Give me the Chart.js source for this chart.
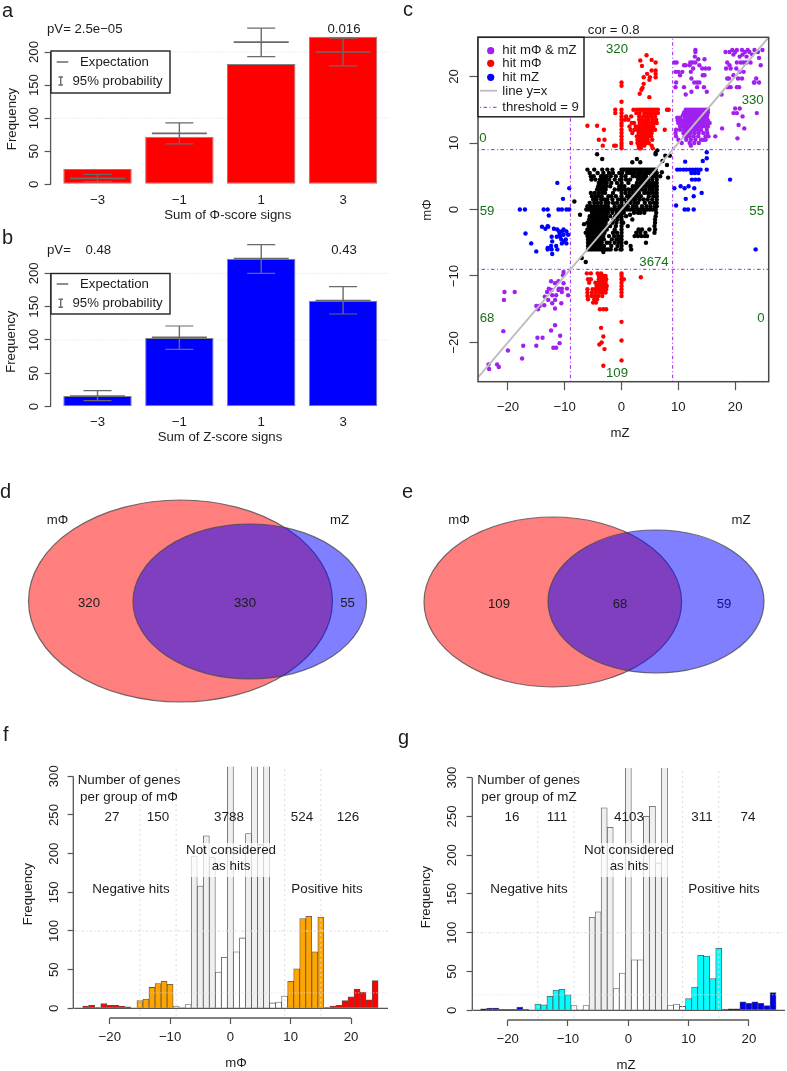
<!DOCTYPE html>
<html><head><meta charset="utf-8">
<style>html,body{margin:0;padding:0;background:#fff}canvas{position:absolute;display:block}</style>
<script src="https://cdn.jsdelivr.net/npm/chart.js@4/dist/chart.umd.min.js"></script>
</head><body>
<script>
// ---------- panels a, b ----------
const signSums=[-3,-1,1,3];
const phiObs=[23,72,182,223], phiExp=[9,77,215,200], phiLo=[4,61,193,179], phiHi=[15,93,236,221];
const zObs=[16,103,222,159], zExp=[16,104,222,159], zLo=[9,86,200,139], zHi=[24,121,243,180];
const freqTicks=[0,50,100,150,200], histTicks=[0,50,100,150,200,250,300], histXTicks=[-20,-10,0,10,20];
// ---------- panels f, g ----------
const bins=[-24,-23,-22,-21,-20,-19,-18,-17,-16,-15,-14,-13,-12,-11,-10,-9,-8,-7,-6,-5,-4,-3,-2,-1,0,1,2,3,4,5,6,7,8,9,10,11,12,13,14,15,16,17,18,19,20,21,22,23,24];
const histPhi=[3,4,1,6,4,4,3,2,0,10,12,27,32,35,31,3,1,5,197,158,223,195,47,66,760,73,91,226,720,212,780,7,8,16,35,51,116,119,73,118,1,3,4,10,15,25,21,11,36];
const histZ=[2,3,3,1,1,1,4,1,0,8,7,18,26,27,20,6,1,6,120,127,261,236,28,48,1250,65,65,250,263,190,1168,6,8,5,15,30,71,70,41,80,1,2,2,11,9,11,9,6,23];
// ---------- panels d, e ----------
const vennDX=[180.5,249.8], vennDY=[-6,-6.5], vennDRx=[152,116.8], vennDRy=[101,77.5];
const vennEX=[160.8,264], vennEY=[-7,-6.5], vennERx=[128.8,108], vennERy=[85,71.5];
// ---------- panel c: [y,[x...]] rows ----------
const blackRows=[
[8.9,[6.3]],[8.5,[6]],[8.3,[-4.3,6]],[8.1,[7.7,8.5]],[7.6,[-3.4,2.7]],[7.3,[7.2]],[7.1,[1.9,3.3]],[6.7,[8]],[5.6,[7.1]],[5,[6.8]],[4.8,[8.2]],
[6,[-6,-4.8,-3.4,-2.5,-1.6,0,0.3,0.6,0.9,1.2,1.5,1.8,2.1,2.4,2.7,3,3.3,3.6,3.9,4.2,4.5,4.8,5.1,5.4,5.7,6]],
[5.5,[-5.6,-4.2,-3.2,-2.2,-1.5,-0.4,0.1,1,1.6,2.2,2.9,3.4,4,4.6,5,5.6,6.2]],
[5,[-5.4,-4.9,-3.6,-3,-2.6,-1.9,-1,0,0.7,2,2.6,3.2,3.8,4.3,5.2,5.8,6.2]],
[4.5,[-5.3,-4.6,-3.8,-3.3,-2.8,-2.2,-1.2,-0.3,0,0.8,1.5,2.9,3.5,4.1,4.7,5.4,6.2]],
[4,[-4,-3.5,-3,-2.6,-1.8,-0.8,0,1.2,2.7,3.3,3.7,4.4,5,5.6,6.2]],
[3.5,[-4.1,-3.6,-3.1,-2.7,-2,-0.4,0,0.5,2,2.5,3,3.6,4.2,4.8,5.3,5.9,6.2]],
[3,[-4.3,-3.7,-3.2,-2.8,-1.2,-0.5,0,0.6,1.2,1.8,2.4,3,3.6,4.2,4.9,5.5,6.2]],
[2.5,[-5.4,-4.7,-4,-3.4,-2.9,-1.5,0,0.7,1.4,2,2.6,3.1,4,4.6,5.2,5.8,6.2]],
[2,[-5.2,-4.6,-4.1,-3.5,-2.3,-1.8,-1,0,1,1.6,2.2,2.8,3.4,4.8,5.6,6.2]],
[1.5,[-5,-4.4,-3.6,-3,-2.5,-1.6,-0.6,0,0.5,1.3,1.9,2.5,3.2,3.9,4.6,5.4,6.2]],
[1.2,[-8.3]],
[1,[-5.6,-4.8,-4.2,-3.6,-2.8,-2.3,-1.5,-0.8,0,0.9,1.6,2.3,2.9,4.1,5,5.7,6.2]],
[0.5,[-6,-5.4,-4.8,-4.2,-3.6,-3,-2.4,-1.2,-0.4,0,0.6,1.1,2,2.6,3.6,4.4,5.1,5.9,6.2]],
[0,[-6.2,-5.8,-5.4,-5,-4.6,-4.2,-3.8,-3.4,-3,-2.6,-2.2,-1.8,-1.4,-1,-0.6,-0.2,0,0.5,1,1.5,2,2.5,3,3.5,4,4.5,5,5.5,6]],
[-0.5,[-5.2,-4.8,-4.4,-4,-3.6,-3.2,-2.8,-2.4,-1.6,-0.8,-0.3,0,0.4,2.2,2.9,3.3,4,6.1]],
[-0.8,[-7.3,1.5]],
[-1,[-5.6,-5.2,-4.8,-4.3,-3.9,-3.5,-3.1,-2.7,-2,-1.1,-0.5,0,0.8,6]],
[-1.5,[-5.7,-5.3,-4.9,-4.5,-4.1,-3.7,-3.3,-2.9,-2.5,-1.4,-0.7,0,1.9,5.9]],
[-2,[-6,-5.6,-5.2,-4.8,-4.4,-4,-3.6,-3.2,-2.8,-1.6,-0.9,0,0.3,5.9]],
[-2.2,[-6.6]],
[-2.5,[-5.8,-5.4,-5,-4.6,-4.2,-3.8,-3.4,-3,-2.4,-2,-1,0,1.1,5.8]],
[-3,[-6,-5.6,-5.2,-4.8,-4.4,-4,-3.6,-3.2,-2.6,-1.2,0,3,3.6,4.9,5.9]],
[-3.5,[-6.3,-5.8,-5.4,-5,-4.6,-4.2,-3.8,-3.4,-3,-1.5,-0.8,0,2.6,3.3,4.2,5.8]],
[-4,[-6,-5.6,-5.2,-4.8,-4.4,-4,-3.6,-3.2,-2.2,-1.3,-0.6,0,2.3,2.9,3.5,4.1,4.5]],
[-4.5,[-5.9,-5.5,-5.1,-4.7,-4.3,-3.9,-3.5,-3.1,-1.7,-0.9,-0.3,0]],
[-5,[-5.9,-5.5,-5.1,-4.7,-4.3,-3.9,-3.5,-2.6,-2.1,-1.2,-0.5,0,0.8,4.3]],
[-5.5,[-5.9,-5.5,-5.1,-4.7,-4.3,-3.9,-3.5,-3.1,-1.8,-0.7,0,1.6]],
[-6,[-5.9,-5.5,-5.1,-4.7,-4.3,-3.9,-3.5,-3.1,-2.7,-2.3,-1.9,-1,-0.2,0,1.7]],
[-6.4,[-3.2]],[-7.3,[-7]],[-7.9,[-6.3]]];
const redRows=[
[23.2,[4.4]],[22.5,[5.3]],[22.4,[3.3]],[22.1,[6]],[21.6,[3.6]],[20.9,[6,5.3]],[20.4,[6,4.5]],[19.9,[6,3.9,5]],[19.5,[4.9]],[19.1,[0]],[18.9,[3.9]],[18.6,[0]],[18.3,[3.7]],[18,[3.5]],[17.4,[3.2]],[16.9,[4.9]],[16.2,[0]],
[15,[-1.1,0,2.1,2.7,3.2,3.6,4,4.4,4.8,5.2,5.6,6,6.4,8,8.3]],
[14.5,[-1.1,0,2.6,3.2,4,4.6,5.1,5.5,6,6.4]],
[14,[0,0.8,1.7,3.1,3.8,4.4,4.9,5.3,5.9]],
[13.5,[0,0.6,1.2,3.1,3.6,4.3,4.8,5.5,6.1]],
[13,[0,1.8,2.2,3.2,3.8,4.2,4.6,5.2,5.7,6.2]],
[12.6,[-6,0,-4.3]],
[12.5,[1.4,2.5,3,3.5,4,4.5,5,5.6]],
[12,[-3.1,0,1.6,2.3,2.8,3.3,3.9,4.4,5,5.4,5.9,7.6]],
[11.5,[0,1.9,3,3.4,3.9,4.4,4.9,5.3]],
[11,[0,2.7,3.1,3.6,4.1,4.7,5.2]],
[10.5,[-4,-3,0,2.8,3.2,3.7,4.2,4.6,5.4]],
[10,[0,1.7,2.8,3.2,3.7,4.3,4.8]],
[9.6,[-3.3,-1.3,-1,0,3,3.4,4,5.3]],[9.2,[0,3.1,3.4,5.5]],
[-9.6,[-6.1,-5.4,-4.2,-3.6,0]],[-10,[-4,-3.5,-3.1,-2.8,0]],[-10.2,[3.4]],[-10.5,[-5.9,-5.4,-4,-3.6,-3.2,-2.7,0,0.4]],
[-11,[-5.7,-4.6,-4.1,-3.7,-3.3,-2.8,0]],[-11.5,[-4.4,-4,-3.5,-3,-2.6,0]],[-12,[-6,-5.1,-4.6,-4.1,-3.6,-3.1,-2.7,0]],
[-12.5,[-6,-5.2,-4.5,-3.8,-3.3,-2.8,0]],[-13,[-6,-5.3,-4.7,-4.1,-3.4,0]],[-13.5,[-5.9,-4.8,-4.3]],[-14,[-5,-4.5]],
[-15,[-3.8,-3.2,-2.7]],[-16.9,[0]],[-17.8,[-3.6]],[-19.1,[-3.2]],[-19.7,[0]],[-20,[-3.5]],[-20.3,[-3.9]],[-21,[-3]],[-22.7,[0]],[-23.5,[-3.2]]];
const blueRows=[
[8.6,[15]],[7.7,[15]],[7.3,[14.3]],[7.2,[11.2]],[6,[9.8,10.3,10.9,11.4,12,12.5,13,13.4,13.9,15]],[5.5,[12.3,12.9,13.5]],[4.5,[12.4,13,13.6,19.1]],[4,[-11.3]],
[3.5,[10.4,11.8]],[3.2,[9.3,11.1,12.8,-9.2]],[2.5,[14.1]],[2,[12.7]],[1.6,[-10.3,11.3]],[0.6,[9.6]],
[0,[-17.9,-17,-13.7,-13,-11.1,-10.5,-9.7,-9.2,11.1,11.7,12.7]],[-0.9,[-12.8]],
[-2.6,[-14,-12.9]],[-2.5,[-13]],[-2.9,[-13.4,-11.9]],[-3,[-11.3,-10.2]],[-3.3,[-10.5,-9.7,-11]],[-3.6,[-16.9]],[-3.8,[-9.4,-10.2,-10.9]],[-4.1,[-12.3,-10.8,-11.4]],[-4.5,[-9.8,-10.6]],[-4.8,[-12.2,-10.2]],[-5.1,[-15.9,-9.7,-10.5]],[-5.5,[-12.4,-11.5]],[-5.8,[-13]],[-6,[-12.3,-11.3,23.6,-13]],[-6.3,[-15]],[-6.7,[-12.2]]];
const purpleRows=[
[24,[13,19.5,20.3,21.2,22.2,23.4,24.8]],[23.7,[13,18.3,19,20,21.7,22.5,24]],[23,[12.9,20.8,22]],[23.3,[19.7,21.3,23]],[22.8,[24.2]],[22.6,[13.5,14.6]],
[22.1,[9.3,9.7,12.1,12.5,13,20.3,21,21.5,22,22.7,18.6]],[21.7,[11,11.3,13.7,24.5,19,12]],[21.2,[12.6,14.2,14.8,15.4,19.2,18.4,20.2]],[20.7,[10,10.7,9.5,12.2,20.8,21.5]],[20.2,[14.3,14.6,10.3,19.7]],
[19.7,[12.3,20.5,21.2,18.6,18.9,23.7]],[19.1,[9.6,12.8,13.3,13.7,23.3,23.4,24.2]],[18.4,[14.5,11,13.3,19.2,18.7,20.3,20.7,9.5]],[17.7,[15,12.3]],[17.3,[11.3,17.6]],
[15.2,[20,20.8]],[14.5,[19.7,20.3,23.8]],[14,[21.3]],[13,[15.5]],[12.7,[20.6]],[12.2,[17.7,21.6]],[11,[16.5]],[10.7,[20.4]],
[15,[11.3,11.7,12.1,12.5,12.9,13.3,13.7,14.1,14.5,14.9,15.2]],
[14.6,[11,11.5,12,12.4,12.8,13.2,13.6,14,14.4,14.8,15.2]],
[14.2,[10.8,11.3,11.8,12.2,12.6,13,13.4,13.8,14.2,14.6,15.1]],
[13.8,[9.8,10.3,11.1,11.6,12,12.4,12.8,13.2,13.6,14,14.4,15]],
[13.4,[9.9,10.5,11,11.5,12,12.4,12.8,13.3,13.7,14.1,14.5,15.2]],
[13,[10,10.6,11.2,11.7,12.1,12.5,12.9,13.4,14,14.5,15.1]],
[12.5,[10.3,10.9,11.3,11.8,12.2,12.6,13.1,13.6,14.2,14.8,15.2]],
[12,[9.6,10.3,11,11.5,11.9,12.3,12.8,13.4,14,15]],
[11.5,[9.5,10.9,11.4,11.8,12.2,12.9,13.6,14.4,15.1]],
[11,[9.6,11.1,11.6,12,12.7,13.5,14.8,15.3]],
[10.5,[10,11.4,12.2,13,14,14.4,14.8]],[10,[10.6,12,12.8,13.6]],[9.6,[12.2]],
[-9.4,[-10.2]],[-9.9,[-10.3]],[-10.8,[-12.4,-11.1]],[-11.1,[-11.7,-10.2]],[-11.9,[-12.8,-11,-10.5,-9.6]],[-12.1,[-12.3,-11.1]],[-12.4,[-13.1,-10.5,-18.8,-20.6]],[-12.9,[-9.4,-11.5,-12.2]],[-13.1,[-13.5]],[-13.6,[-11.7,-12.9,-20.7]],[-14.1,[-12.2,-10.6]],[-14.4,[-13.6]],[-14.5,[-15,-14.4]],[-14.9,[-11.7]],[-15,[-14.7]],
[-17.4,[-11.7]],[-18.2,[-12.4]],[-18.3,[-20.8]],[-19,[-10.8]],[-19.3,[-14.8,-13.9]],[-20.1,[-10.9]],[-20.5,[-15,-17.3]],[-20.8,[-12,-11.5]],[-21.2,[-20]],[-22.4,[-17.5]],[-23.3,[-23.4,-21.9]],[-23.7,[-21.6]],[-24,[-23.3]]];
const cTicks=[-20,-10,0,10,20], thresholds=[-9,9];

// ---------- helpers ----------
const FF='"Liberation Sans", Arial, sans-serif', AX='#565656', TXT='#1c1c1c', GRN='#16701a', PUR='#a020f0', SZ=13.2;
const PTS=rows=>rows.flatMap(([y,xs])=>xs.map(x=>({x,y})));
const minus=v=>String(v).replace('-','\u2212');
function T(c,s,x,y,o={}){c.save();c.font=(o.size||SZ)+'px '+FF;c.fillStyle=o.color||TXT;c.textAlign=o.align||'center';c.textBaseline='middle';c.translate(x,y);if(o.rot)c.rotate(-Math.PI/2);c.fillText(s,0,0);c.restore();}
function canvas(p){const e=document.createElement('canvas');e.width=p.w;e.height=p.h;e.style.cssText=`left:${p.l}px;top:${p.t}px;width:${p.w}px;height:${p.h}px`;document.body.appendChild(e);return e;}
function yScale(p,left,min,max,ticks,len,pad){return{type:'linear',min,max,afterBuildTicks:s=>{s.ticks=ticks.map(v=>({value:v}))},afterFit:s=>{s.width=left-p.l},border:{display:false},
 grid:{drawOnChartArea:false,drawTicks:true,tickLength:len,tickColor:AX,tickWidth:1.2},
 ticks:{font:{family:FF,size:SZ},color:TXT,minRotation:90,maxRotation:90,crossAlign:'center',padding:pad,autoSkip:false,callback:minus}};}
function xScale(p,bottom,min,max,ticks,len,pad){return{type:'linear',offset:false,min,max,afterBuildTicks:s=>{s.ticks=ticks.map(v=>({value:v}))},afterFit:s=>{s.height=p.t+p.h-bottom},border:{display:false},
 grid:{offset:false,display:len>0,drawOnChartArea:false,drawTicks:true,tickLength:len,tickColor:AX,tickWidth:1.2},
 ticks:{font:{family:FF,size:SZ},color:TXT,maxRotation:0,padding:pad,autoSkip:false,callback:minus}};}
const ref=(x1,y1,x2,y2,color,dash,w,order)=>({type:'scatter',showLine:true,data:[{x:x1,y:y1},{x:x2,y:y2}],borderColor:color,borderDash:dash,borderWidth:w,pointRadius:0,fill:false,order});
function mk(p,plot,datasets,scales,draw,type){return new Chart(canvas(p),{type:type||'bar',data:{datasets},
 options:{responsive:false,animation:false,devicePixelRatio:1,events:[],layout:{autoPadding:false,padding:{left:0,bottom:0,top:plot.t-p.t,right:p.l+p.w-plot.r}},plugins:{legend:{display:false},tooltip:{enabled:false},title:{display:false}},scales},
 plugins:[{id:'deco',afterDraw(ch){const c=ch.ctx;c.save();c.translate(-p.l,-p.t);draw(c,ch);c.restore();}}]});}
function axisY(c,ch,x0,p,ticks){const s=ch.scales.y;c.strokeStyle=AX;c.lineWidth=1.3;c.beginPath();c.moveTo(x0,p.t+s.getPixelForValue(ticks[0]));c.lineTo(x0,p.t+s.getPixelForValue(ticks[ticks.length-1]));c.stroke();}

// ---------- bars a / b ----------
function barPanel(p,plot,obs,exp,lo,hi,color,info){
 const GR='#6a6a6a';
 const ds=[
  {type:'scatter',data:signSums.map((x,i)=>({x,y:exp[i]})),pointStyle:'line',pointRadius:27.5,pointBorderColor:GR,pointBorderWidth:1.6,order:1},
  {type:'scatter',data:signSums.flatMap((x,i)=>[{x,y:lo[i]},{x,y:hi[i]}]),pointStyle:'line',pointRadius:14,pointBorderColor:GR,pointBorderWidth:1.2,order:1},
  {type:'bar',grouped:false,data:signSums.map((x,i)=>({x,y:[lo[i],hi[i]]})),backgroundColor:GR,borderWidth:0,maxBarThickness:1.4,order:2},
  {type:'bar',grouped:false,data:signSums.map((x,i)=>({x,y:obs[i]})),backgroundColor:color,borderColor:'#808080',borderWidth:1,borderSkipped:false,barPercentage:0.836,categoryPercentage:1,order:3},
  ref(-5,100,5,100,'#dcdcdc',[1,2],1,4),ref(-5,200,5,200,'#dcdcdc',[1,2],1,4)];
 const ymax=(plot.zero-plot.t)/plot.k;
 mk(p,plot,ds,{x:xScale(p,plot.zero,-4.146,4.146,signSums,0,7.8),y:yScale(p,plot.l,0,ymax,freqTicks,6,-0.4)},(c,ch)=>{
  axisY(c,ch,plot.l,p,freqTicks);
  const L=info.leg;
  c.fillStyle='#fff';c.fillRect(51,L.t,119,L.b-L.t);c.strokeStyle='#222';c.lineWidth=1.4;c.strokeRect(51,L.t,119,L.b-L.t);
  c.strokeStyle=GR;c.lineWidth=1.4;c.beginPath();c.moveTo(56.7,L.y1);c.lineTo(68.3,L.y1);c.moveTo(60.7,L.y2-4);c.lineTo(60.7,L.y2+4);c.moveTo(58.5,L.y2-4);c.lineTo(63,L.y2-4);c.moveTo(58.5,L.y2+4);c.lineTo(63,L.y2+4);c.stroke();
  T(c,'Expectation',80,L.y1,{align:'left'});T(c,'95% probability',72.5,L.y2,{align:'left'});
  info.texts.forEach(a=>T(c,...a));
 });
}
barPanel({l:0,t:0,w:400,h:225},{l:50.6,t:20,r:390,zero:184.3,k:0.6615},phiObs,phiExp,phiLo,phiHi,'#ff0000',{leg:{t:51,b:93,y1:62,y2:81},texts:[
 ['a',2,11,{align:'left',size:20}],['pV= 2.5e\u221205',47,29,{align:'left'}],['0.016',344,29],['Sum of \u03a6-score signs',227.7,215.5],['Frequency',12.3,119,{rot:1}]]});
barPanel({l:0,t:225,w:400,h:225},{l:50.6,t:235,r:390,zero:406.7,k:0.667},zObs,zExp,zLo,zHi,'#0000ff',{leg:{t:273.5,b:314,y1:284,y2:303.3},texts:[
 ['b',2,238,{align:'left',size:20}],['pV=',47,250.7,{align:'left'}],['0.48',98.3,250.7],['0.43',344,250.7],['Sum of Z-score signs',220,437],['Frequency',11,341.7,{rot:1}]]});

// ---------- scatter c ----------
(function(){
 const p={l:400,t:0,w:387,h:450},plot={l:478,t:37.3,r:768.7,b:381.7};
 const xmin=-25.26,xmax=25.9,ymin=-25.9,ymax=25.9;
 const pts=(rows,col,order)=>({type:'scatter',data:PTS(rows),pointStyle:'circle',pointRadius:2.2,pointBackgroundColor:col,pointBorderWidth:0,order});
 const TH=[1,2.5,3.5,2.5];
 const ds=[
  ref(xmin,xmin,xmax,xmax,'#bdbdbd',[],2,1),
  ...thresholds.map(t=>ref(t,ymin,t,ymax,PUR,TH,1,2)),...thresholds.map(t=>ref(xmin,t,xmax,t,PUR,TH,1,2)),
  pts(purpleRows,PUR,5),pts(blueRows,'#0000ff',6),pts(redRows,'#ff0000',7),pts(blackRows,'#000',8),
  ref(xmin,0,xmax,0,'#e4e4e4',[1,3],1,9),ref(0,ymin,0,ymax,'#e4e4e4',[1,3],1,9)];
 mk(p,plot,ds,{x:xScale(p,plot.b,xmin,xmax,cTicks,8.5,9),y:yScale(p,plot.l,ymin,ymax,cTicks,8.5,4.3)},(c)=>{
  c.strokeStyle='#484848';c.lineWidth=1.5;c.strokeRect(plot.l,plot.t,plot.r-plot.l,plot.b-plot.t);
  c.fillStyle='#fff';c.fillRect(478,37.3,106,79.5);c.strokeStyle='#222';c.lineWidth=1.5;c.strokeRect(478,37.3,106,79.5);
  [['#a020f0',50.7],['#ff0000',63.3],['#0000ff',77.3]].forEach(([col,y])=>{c.fillStyle=col;c.beginPath();c.arc(490.7,y,3.6,0,7);c.fill();});
  c.strokeStyle='#bdbdbd';c.lineWidth=1.8;c.beginPath();c.moveTo(480,90.7);c.lineTo(497,90.7);c.stroke();
  c.strokeStyle=PUR;c.lineWidth=1;c.setLineDash(TH);c.beginPath();c.moveTo(480,107.3);c.lineTo(497,107.3);c.stroke();c.setLineDash([]);
  [['hit m\u03a6 & mZ',50.7],['hit m\u03a6',63.8],['hit mZ',77.8],['line y=x',91.5],['threshold = 9',107.3]].forEach(([s,y])=>T(c,s,502.3,y,{align:'left'}));
  [['320',617,49],['330',752.7,100.7],['0',483,138],['59',487,211.7],['55',756.7,211.7],['3674',654,262.3],['68',487,318.7],['0',761,318.7],['109',617,373.7]].forEach(a=>T(c,a[0],a[1],a[2],{color:GRN}));
  T(c,'c',403,10,{size:20,align:'left'});T(c,'cor = 0.8',613.7,30);T(c,'mZ',620,433);T(c,'m\u03a6',427,210,{rot:1});
 });
})();

// ---------- venn d / e ----------
function venn(p,xs,ys,rxs,rys,w,texts){
 const cols=['rgba(255,0,0,0.5)','rgba(0,0,255,0.5)'];
 const ds=xs.map((x,i)=>({type:'bubble',data:[{x,y:ys[i],r:rxs[i],rx:rxs[i],ry:rys[i]}],backgroundColor:cols[i],order:2-i}));
 new Chart(canvas(p),{type:'bubble',data:{datasets:ds},options:{responsive:false,animation:false,devicePixelRatio:1,events:[],layout:{autoPadding:false,padding:0},plugins:{legend:{display:false},tooltip:{enabled:false}},
  scales:{x:{type:'linear',display:false,min:0,max:w},y:{type:'linear',display:false,min:-125,max:125}}},
  plugins:[{id:'ellipse',beforeDatasetDraw(ch,a){const c=ch.ctx,sx=ch.scales.x,sy=ch.scales.y,d=ch.data.datasets[a.index];
    a.meta.data.forEach((el,i)=>{const v=d.data[i];c.save();c.beginPath();c.ellipse(el.x,el.y,sx.getPixelForValue(v.rx)-sx.getPixelForValue(0),sy.getPixelForValue(0)-sy.getPixelForValue(v.ry),0,0,7);c.fillStyle=d.backgroundColor;c.fill();c.strokeStyle='rgba(70,70,70,.75)';c.lineWidth=1.2;c.stroke();c.restore();});return false;},
   afterDraw(ch){const c=ch.ctx;c.save();c.translate(-p.l,-p.t);texts.forEach(a=>T(c,...a));c.restore();}}]});
}
venn({l:0,t:470,w:392,h:250},vennDX,vennDY,vennDRx,vennDRy,392,[['d',0,492,{size:20,align:'left'}],['m\u03a6',57.5,520.5],['mZ',339.5,520.5],['320',89,603.5],['330',245,603.5],['55',347.5,603.5]]);
venn({l:392,t:470,w:395,h:250},vennEX,vennEY,vennERx,vennERy,395,[['e',402,492,{size:20,align:'left'}],['m\u03a6',459,520.5],['mZ',741,520.5],['109',499,604.5],['68',620,604.5],['59',724,604.5,{color:'#121290'}]]);

// ---------- histograms f / g ----------
function hist(p,plot,vals,hot,mid,fade,texts){
 const ymin=-12.5,ymax=312.4,xmin=(plot.l-plot.c)/6.03,xmax=(plot.r-plot.c)/6.03;
 const col=bins.map((b,i)=>{const a=Math.abs(b);return a>=16?hot:a>=10?mid:vals[i]<100?'#ffffff':'#efefef';});
 const LN='#dcdcdc';
 const ds=[
  {type:'bar',data:bins.map((x,i)=>({x,y:vals[i]})),backgroundColor:col,borderColor:'#555',borderWidth:0.8,barPercentage:1,categoryPercentage:1,order:3},
  ref(xmin,0,xmax,0,AX,[],1.2,2),
  ref(xmin,100,xmax,100,LN,[3,2,1,2],1,1),ref(xmin,20,xmax,20,LN,[1,2],1,1),
  ...[-15,-9,9,15].map(v=>ref(v,-10,v,ymax,LN,[2,3],1,1))];
 mk(p,plot,ds,{x:xScale(p,plot.b,xmin,xmax,histXTicks,6,5.1),y:yScale(p,plot.l,ymin,ymax,histTicks,5.7,plot.pad)},(c,ch)=>{
  axisY(c,ch,plot.l,p,histTicks);
  const s=ch.scales.x;c.strokeStyle=AX;c.lineWidth=1.3;c.beginPath();c.moveTo(p.l+s.getPixelForValue(-20),plot.b);c.lineTo(p.l+s.getPixelForValue(20),plot.b);c.stroke();
  c.fillStyle='rgba(255,255,255,.72)';c.fillRect(fade[0],843,fade[1]-fade[0],34);
  texts.forEach(a=>T(c,a[0],a[1],a[2],a[3]));
 });
}
const S2=13.4;
hist({l:0,t:720,w:393,h:351},{l:73.3,t:766.7,r:388,b:1018,c:230.4,pad:2.6},histPhi,'#ff0000','#ffa500',[191,271],[
 ['f',3,735,{size:20,align:'left'}],['Number of genes',129,780,{size:S2}],['per group of m\u03a6',129,797,{size:S2}],['27',112,817,{size:S2}],['150',158,817,{size:S2}],['3788',229,817,{size:S2}],['524',302,817,{size:S2}],['126',348,817,{size:S2}],
 ['Not considered',231,850,{size:S2}],['as hits',231,866,{size:S2}],['Negative hits',131,889,{size:S2}],['Positive hits',327,889,{size:S2}],['Frequency',28,894,{rot:1}],['m\u03a6',236,1063]]);
hist({l:393,t:720,w:394,h:351},{l:472.3,t:768,r:785,b:1020,c:628.3,pad:3.6},histZ,'#0000e6','#00ffff',[601,669],[
 ['g',398,738,{size:20,align:'left'}],['Number of genes',528.7,780,{size:S2}],['per group of mZ',529,797,{size:S2}],['16',512,817,{size:S2}],['111',557,817,{size:S2}],['4103',629,817,{size:S2}],['311',702,817,{size:S2}],['74',748,817,{size:S2}],
 ['Not considered',629,850,{size:S2}],['as hits',629,866,{size:S2}],['Negative hits',529,889,{size:S2}],['Positive hits',724,889,{size:S2}],['Frequency',426,897,{rot:1}],['mZ',626,1065]]);
</script>
</body></html>
